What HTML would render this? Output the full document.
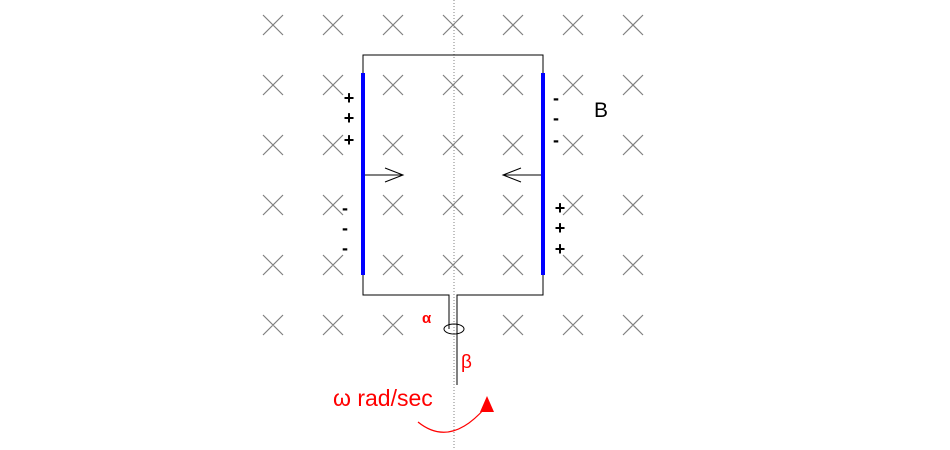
<!DOCTYPE html>
<html><head><style>body{margin:0;background:#fff}svg{display:block}</style></head><body>
<svg width="950" height="450" xmlns="http://www.w3.org/2000/svg" font-family="Liberation Sans, sans-serif">
<g stroke="#808080" stroke-width="1.2">
<path d="
M263,15l20,20m0,-20l-20,20 M323,15l20,20m0,-20l-20,20 M383,15l20,20m0,-20l-20,20 M443,15l20,20m0,-20l-20,20 M503,15l20,20m0,-20l-20,20 M563,15l20,20m0,-20l-20,20 M623,15l20,20m0,-20l-20,20
M263,75l20,20m0,-20l-20,20 M323,75l20,20m0,-20l-20,20 M383,75l20,20m0,-20l-20,20 M443,75l20,20m0,-20l-20,20 M503,75l20,20m0,-20l-20,20 M563,75l20,20m0,-20l-20,20 M623,75l20,20m0,-20l-20,20
M263,135l20,20m0,-20l-20,20 M323,135l20,20m0,-20l-20,20 M383,135l20,20m0,-20l-20,20 M443,135l20,20m0,-20l-20,20 M503,135l20,20m0,-20l-20,20 M563,135l20,20m0,-20l-20,20 M623,135l20,20m0,-20l-20,20
M263,195l20,20m0,-20l-20,20 M323,195l20,20m0,-20l-20,20 M383,195l20,20m0,-20l-20,20 M443,195l20,20m0,-20l-20,20 M503,195l20,20m0,-20l-20,20 M563,195l20,20m0,-20l-20,20 M623,195l20,20m0,-20l-20,20
M263,255l20,20m0,-20l-20,20 M323,255l20,20m0,-20l-20,20 M383,255l20,20m0,-20l-20,20 M443,255l20,20m0,-20l-20,20 M503,255l20,20m0,-20l-20,20 M563,255l20,20m0,-20l-20,20 M623,255l20,20m0,-20l-20,20
M263,315l20,20m0,-20l-20,20 M323,315l20,20m0,-20l-20,20 M383,315l20,20m0,-20l-20,20 M503,315l20,20m0,-20l-20,20 M563,315l20,20m0,-20l-20,20 M623,315l20,20m0,-20l-20,20"/>
</g>
<line x1="454" y1="0" x2="454" y2="450" stroke="#808080" stroke-width="1" stroke-dasharray="1,2"/>
<g fill="none" stroke="#000" stroke-width="1">
<path d="M363,73V55H543V73"/>
<path d="M363,275V295H449V329"/>
<path d="M543,275V295H457V385"/>
<ellipse cx="454" cy="329" rx="10" ry="5"/>
<path d="M363,175H403M385,168L403,175L385,182"/>
<path d="M543,175H503M521,168L503,175L521,182"/>
</g>
<rect x="361" y="73" width="4" height="202" fill="#0000ff"/>
<rect x="541" y="73" width="4" height="202" fill="#0000ff"/>
<g font-size="18" font-weight="bold" fill="#000" text-anchor="middle">
<text x="349" y="104">+</text><text x="349" y="124">+</text><text x="349" y="146">+</text>
<text x="345" y="214">-</text><text x="345" y="234">-</text><text x="345" y="254">-</text>
<text x="556" y="104">-</text><text x="556" y="124">-</text><text x="556" y="146">-</text>
<text x="560" y="214">+</text><text x="560" y="234">+</text><text x="560" y="255">+</text>
</g>
<text x="594" y="117" font-size="21">B</text>
<g fill="#ff0000">
<text x="422" y="323" font-size="15" font-weight="bold">α</text>
<text x="461" y="368" font-size="19">β</text>
<text x="333" y="406" font-size="23">ω rad/sec</text>
<path d="M418,422Q450,448 485,408" fill="none" stroke="#ff0000" stroke-width="1.2"/>
<path d="M480,412L487,396L494,412Z"/>
</g>
</svg>
</body></html>
